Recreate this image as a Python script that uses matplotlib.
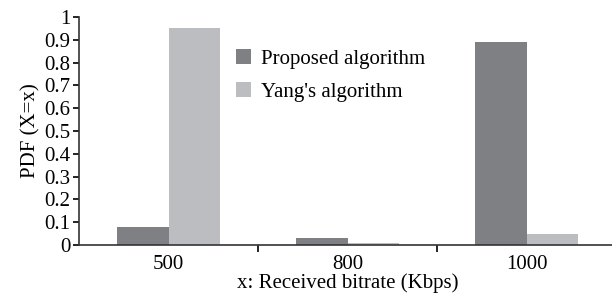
import matplotlib.pyplot as plt
import numpy as np

plt.rcParams['font.family'] = ['Liberation Serif', 'DejaVu Serif']

categories = ["500", "800", "1000"]
proposed = [0.08, 0.03, 0.89]
yang = [0.95, 0.007, 0.05]

fig = plt.figure(figsize=(6.12, 2.99), dpi=100)
ax = fig.add_axes([79 / 612, 1 - 245 / 299, 537 / 612, 228 / 299])

x = np.arange(len(categories))
w = 0.29
ax.bar(x - w / 2, proposed, w, color='#7f8084', label='Proposed algorithm')
ax.bar(x + w / 2, yang, w, color='#bcbdc1', label="Yang's algorithm")

ax.set_xlim(-0.5, 2.5)
ax.set_ylim(0, 1)
ax.set_yticks(np.arange(0, 1.01, 0.1))
ax.set_yticklabels(["0"] + [f"{v:.1f}" for v in np.arange(0.1, 0.95, 0.1)] + ["1"])
ax.set_xticks([0.5, 1.5])
ax.set_xticklabels([])
ax.set_xticks(x, minor=True)
ax.set_xticklabels(categories, minor=True)
ax.tick_params(axis='x', which='minor', length=0, pad=7, labelsize=15)
ax.tick_params(axis='x', which='major', direction='out', length=5, width=1.2)
ax.tick_params(axis='y', direction='out', length=4, width=1.2, labelsize=15, pad=2)

for s in ['top', 'right']:
    ax.spines[s].set_visible(False)
for s in ['left', 'bottom']:
    ax.spines[s].set_linewidth(1.2)
    ax.spines[s].set_color('#333333')

ax.set_ylabel("PDF (X=x)", fontsize=15, labelpad=3)
ax.set_xlabel("x: Received bitrate (Kbps)", fontsize=15, labelpad=0)

ax.legend(loc='upper left', bbox_to_anchor=(0.258, 0.94), frameon=False, fontsize=15,
          handlelength=0.7, handleheight=0.7, handletextpad=0.5, labelspacing=0.62)

fig.savefig("out.png", dpi=100)
